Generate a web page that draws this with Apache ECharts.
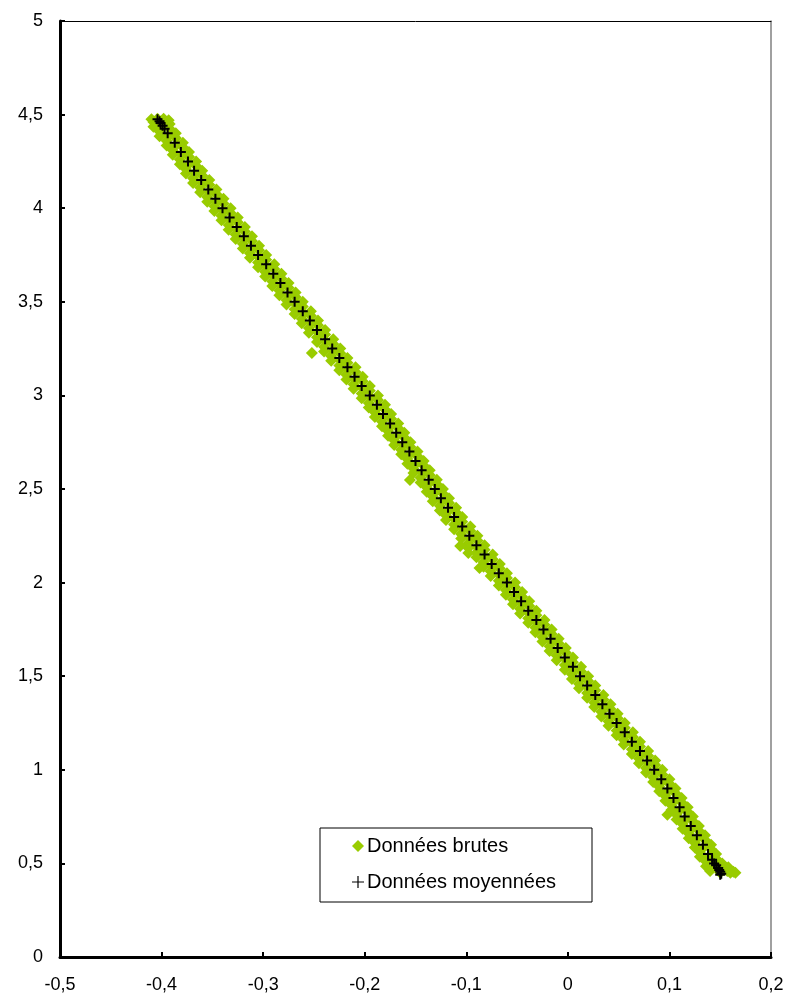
<!DOCTYPE html>
<html>
<head>
<meta charset="utf-8">
<script src="https://cdn.jsdelivr.net/npm/echarts@6/dist/echarts.min.js"></script>
<style>
html,body{margin:0;padding:0;background:#fff;}
#chart{width:789px;height:998px;}
</style>
</head>
<body>
<div id="chart"></div>
<script>
// Axis ticks
var xTicks = [-0.5, -0.4, -0.3, -0.2, -0.1, 0, 0.1, 0.2];
var yTicks = [0, 0.5, 1, 1.5, 2, 2.5, 3, 3.5, 4, 4.5, 5];

// Series names
var seriesNames = ['Données brutes', 'Données moyennées'];

// Averaged data [x, y]
var meanData = [
  [-0.404,4.475],[-0.402,4.465],[-0.401,4.455],[-0.399,4.44],[-0.397,4.425],[-0.394,4.40],
  [-0.387,4.35],[-0.381,4.30],[-0.374,4.25],[-0.368,4.20],[-0.361,4.15],
  [-0.354,4.10],[-0.347,4.05],[-0.340,4.00],[-0.333,3.95],[-0.326,3.90],[-0.319,3.85],
  [-0.312,3.80],[-0.305,3.75],[-0.297,3.70],[-0.290,3.65],[-0.283,3.60],[-0.276,3.55],
  [-0.269,3.50],[-0.261,3.45],[-0.254,3.40],[-0.247,3.35],[-0.239,3.30],[-0.232,3.25],
  [-0.225,3.20],[-0.217,3.15],[-0.210,3.10],[-0.203,3.05],[-0.195,3.00],[-0.188,2.95],
  [-0.182,2.90],[-0.175,2.85],[-0.169,2.80],[-0.163,2.75],[-0.156,2.70],[-0.150,2.65],
  [-0.144,2.60],[-0.137,2.55],[-0.131,2.50],[-0.125,2.45],[-0.118,2.40],[-0.112,2.35],
  [-0.104,2.30],[-0.097,2.25],[-0.090,2.20],[-0.082,2.15],[-0.075,2.10],[-0.068,2.05],
  [-0.060,2.00],[-0.053,1.95],[-0.046,1.90],[-0.039,1.85],[-0.031,1.80],[-0.024,1.75],
  [-0.017,1.70],[-0.010,1.65],[-0.003,1.60],[0.005,1.55],[0.012,1.50],[0.019,1.45],
  [0.027,1.40],[0.034,1.35],[0.041,1.30],[0.048,1.25],[0.056,1.20],[0.063,1.15],
  [0.071,1.10],[0.078,1.05],[0.085,1.00],[0.092,0.95],[0.098,0.90],[0.104,0.85],
  [0.110,0.80],[0.115,0.75],[0.121,0.70],[0.127,0.65],[0.133,0.60],[0.138,0.55],
  [0.142,0.52],[0.144,0.50],[0.146,0.49],[0.148,0.475],[0.149,0.465],[0.150,0.455],[0.151,0.445],[0.150,0.44]
];

// Raw data [x, y]
var rawData = [
  [-0.410,4.475],[-0.404,4.478],[-0.398,4.478],[-0.393,4.47],[-0.402,4.465],
  [-0.408,4.46],[-0.408,4.435],[-0.392,4.45],[-0.392,4.425],[-0.399,4.438],
  [-0.402,4.41],[-0.402,4.385],[-0.386,4.40],[-0.386,4.375],[-0.393,4.388],
  [-0.395,4.36],[-0.395,4.335],[-0.379,4.35],[-0.379,4.325],[-0.386,4.338],
  [-0.389,4.31],[-0.389,4.285],[-0.373,4.30],[-0.373,4.275],[-0.380,4.288],
  [-0.382,4.26],[-0.382,4.235],[-0.366,4.25],[-0.366,4.225],[-0.373,4.238],
  [-0.376,4.21],[-0.376,4.185],[-0.360,4.20],[-0.360,4.175],[-0.367,4.188],
  [-0.369,4.16],[-0.369,4.135],[-0.353,4.15],[-0.353,4.125],[-0.360,4.138],
  [-0.362,4.11],[-0.362,4.085],[-0.346,4.10],[-0.346,4.075],[-0.353,4.088],
  [-0.355,4.06],[-0.355,4.035],[-0.339,4.05],[-0.339,4.025],[-0.346,4.038],
  [-0.348,4.01],[-0.348,3.985],[-0.332,4.00],[-0.332,3.975],[-0.339,3.988],
  [-0.341,3.96],[-0.341,3.935],[-0.325,3.95],[-0.325,3.925],[-0.332,3.938],
  [-0.334,3.91],[-0.334,3.885],[-0.318,3.90],[-0.318,3.875],[-0.325,3.888],
  [-0.327,3.86],[-0.327,3.835],[-0.311,3.85],[-0.311,3.825],[-0.318,3.838],
  [-0.320,3.81],[-0.320,3.785],[-0.304,3.80],[-0.304,3.775],[-0.311,3.788],
  [-0.313,3.76],[-0.313,3.735],[-0.297,3.75],[-0.297,3.725],[-0.304,3.738],
  [-0.305,3.71],[-0.305,3.685],[-0.289,3.70],[-0.289,3.675],[-0.296,3.688],
  [-0.298,3.66],[-0.298,3.635],[-0.282,3.65],[-0.282,3.625],[-0.289,3.638],
  [-0.291,3.61],[-0.291,3.585],[-0.275,3.60],[-0.275,3.575],[-0.282,3.588],
  [-0.284,3.56],[-0.284,3.535],[-0.268,3.55],[-0.268,3.525],[-0.275,3.538],
  [-0.277,3.51],[-0.277,3.485],[-0.261,3.50],[-0.261,3.475],[-0.268,3.488],
  [-0.269,3.46],[-0.269,3.435],[-0.253,3.45],[-0.253,3.425],[-0.260,3.438],
  [-0.262,3.41],[-0.262,3.385],[-0.246,3.40],[-0.246,3.375],[-0.253,3.388],
  [-0.255,3.36],[-0.255,3.335],[-0.239,3.35],[-0.239,3.325],[-0.246,3.338],
  [-0.247,3.31],[-0.247,3.285],[-0.231,3.30],[-0.231,3.275],[-0.238,3.288],
  [-0.240,3.26],[-0.240,3.235],[-0.224,3.25],[-0.224,3.225],[-0.231,3.238],[-0.252,3.226],
  [-0.233,3.21],[-0.233,3.185],[-0.217,3.20],[-0.217,3.175],[-0.224,3.188],
  [-0.225,3.16],[-0.225,3.135],[-0.209,3.15],[-0.209,3.125],[-0.216,3.138],
  [-0.218,3.11],[-0.218,3.085],[-0.202,3.10],[-0.202,3.075],[-0.209,3.088],
  [-0.211,3.06],[-0.211,3.035],[-0.195,3.05],[-0.195,3.025],[-0.202,3.038],
  [-0.203,3.01],[-0.203,2.985],[-0.187,3.00],[-0.187,2.975],[-0.194,2.988],
  [-0.196,2.96],[-0.196,2.935],[-0.180,2.95],[-0.180,2.925],[-0.187,2.938],
  [-0.190,2.91],[-0.190,2.885],[-0.174,2.90],[-0.174,2.875],[-0.181,2.888],
  [-0.183,2.86],[-0.183,2.835],[-0.167,2.85],[-0.167,2.825],[-0.174,2.838],
  [-0.177,2.81],[-0.177,2.785],[-0.161,2.80],[-0.161,2.775],[-0.168,2.788],
  [-0.171,2.76],[-0.171,2.735],[-0.155,2.75],[-0.155,2.725],[-0.162,2.738],
  [-0.164,2.71],[-0.164,2.685],[-0.148,2.70],[-0.148,2.675],[-0.155,2.688],
  [-0.158,2.66],[-0.158,2.635],[-0.142,2.65],[-0.142,2.625],[-0.149,2.638],
  [-0.152,2.61],[-0.152,2.585],[-0.136,2.60],[-0.136,2.575],[-0.143,2.588],
  [-0.145,2.56],[-0.145,2.535],[-0.129,2.55],[-0.129,2.525],[-0.136,2.538],[-0.1555,2.548],
  [-0.139,2.51],[-0.139,2.485],[-0.123,2.50],[-0.123,2.475],[-0.130,2.488],
  [-0.133,2.46],[-0.133,2.435],[-0.117,2.45],[-0.117,2.425],[-0.124,2.438],
  [-0.126,2.41],[-0.126,2.385],[-0.110,2.40],[-0.110,2.375],[-0.117,2.388],
  [-0.120,2.36],[-0.120,2.335],[-0.104,2.35],[-0.104,2.325],[-0.111,2.338],
  [-0.112,2.31],[-0.112,2.285],[-0.096,2.30],[-0.096,2.275],[-0.103,2.288],
  [-0.105,2.26],[-0.105,2.235],[-0.089,2.25],[-0.089,2.225],[-0.096,2.238],
  [-0.098,2.21],[-0.098,2.185],[-0.082,2.20],[-0.082,2.175],[-0.089,2.188],[-0.106,2.196],[-0.098,2.158],
  [-0.090,2.16],[-0.090,2.135],[-0.074,2.15],[-0.074,2.125],[-0.081,2.138],
  [-0.083,2.11],[-0.083,2.085],[-0.067,2.10],[-0.067,2.075],[-0.074,2.088],[-0.087,2.078],
  [-0.076,2.06],[-0.076,2.035],[-0.060,2.05],[-0.060,2.025],[-0.067,2.038],
  [-0.068,2.01],[-0.068,1.985],[-0.052,2.00],[-0.052,1.975],[-0.059,1.988],
  [-0.061,1.96],[-0.061,1.935],[-0.045,1.95],[-0.045,1.925],[-0.052,1.938],
  [-0.054,1.91],[-0.054,1.885],[-0.038,1.90],[-0.038,1.875],[-0.045,1.888],
  [-0.047,1.86],[-0.047,1.835],[-0.031,1.85],[-0.031,1.825],[-0.038,1.838],
  [-0.039,1.81],[-0.039,1.785],[-0.023,1.80],[-0.023,1.775],[-0.030,1.788],
  [-0.032,1.76],[-0.032,1.735],[-0.016,1.75],[-0.016,1.725],[-0.023,1.738],
  [-0.025,1.71],[-0.025,1.685],[-0.009,1.70],[-0.009,1.675],[-0.016,1.688],
  [-0.018,1.66],[-0.018,1.635],[-0.002,1.65],[-0.002,1.625],[-0.009,1.638],
  [-0.011,1.61],[-0.011,1.585],[0.005,1.60],[0.005,1.575],[-0.002,1.588],
  [-0.003,1.56],[-0.003,1.535],[0.013,1.55],[0.013,1.525],[0.006,1.538],
  [0.004,1.51],[0.004,1.485],[0.020,1.50],[0.020,1.475],[0.013,1.488],
  [0.011,1.46],[0.011,1.435],[0.027,1.45],[0.027,1.425],[0.020,1.438],
  [0.019,1.41],[0.019,1.385],[0.035,1.40],[0.035,1.375],[0.028,1.388],
  [0.026,1.36],[0.026,1.335],[0.042,1.35],[0.042,1.325],[0.035,1.338],
  [0.033,1.31],[0.033,1.285],[0.049,1.30],[0.049,1.275],[0.042,1.288],
  [0.040,1.26],[0.040,1.235],[0.056,1.25],[0.056,1.225],[0.049,1.238],
  [0.048,1.21],[0.048,1.185],[0.064,1.20],[0.064,1.175],[0.057,1.188],
  [0.055,1.16],[0.055,1.135],[0.071,1.15],[0.071,1.125],[0.064,1.138],
  [0.063,1.11],[0.063,1.085],[0.079,1.10],[0.079,1.075],[0.072,1.088],
  [0.070,1.06],[0.070,1.035],[0.086,1.05],[0.086,1.025],[0.079,1.038],
  [0.077,1.01],[0.077,0.985],[0.093,1.00],[0.093,0.975],[0.086,0.988],
  [0.084,0.96],[0.084,0.935],[0.100,0.95],[0.100,0.925],[0.093,0.938],
  [0.090,0.91],[0.090,0.885],[0.106,0.90],[0.106,0.875],[0.099,0.888],
  [0.096,0.86],[0.096,0.835],[0.112,0.85],[0.112,0.825],[0.105,0.838],
  [0.102,0.81],[0.102,0.785],[0.118,0.80],[0.118,0.775],[0.111,0.788],[0.098,0.76],
  [0.107,0.76],[0.107,0.735],[0.123,0.75],[0.123,0.725],[0.116,0.738],
  [0.113,0.71],[0.113,0.685],[0.129,0.70],[0.129,0.675],[0.122,0.688],
  [0.119,0.66],[0.119,0.635],[0.135,0.65],[0.135,0.625],[0.128,0.638],
  [0.125,0.61],[0.125,0.585],[0.141,0.60],[0.141,0.575],[0.134,0.588],
  [0.130,0.56],[0.130,0.535],[0.146,0.55],[0.146,0.525],[0.139,0.538],
  [0.136,0.51],[0.136,0.485],[0.152,0.50],[0.152,0.475],[0.145,0.488],[0.158,0.48],
  [0.140,0.46],[0.157,0.46],[0.163,0.455],[0.165,0.45],[0.150,0.45],[0.160,0.45]
];

var plusPath = 'path://M4,0H6V4H10V6H6V10H4V6H0V4H4Z';
var plusLegend = 'path://M5.4,0H6.6V5.4H12V6.6H6.6V12H5.4V6.6H0V5.4H5.4Z';

var chart = echarts.init(document.getElementById('chart'));
var labelFont = {color:'#000', fontSize:18, fontFamily:'Liberation Sans, Arial, sans-serif'};
chart.setOption({
  animation: false,
  backgroundColor: '#fff',
  grid: {left: 60, right: 18, top: 21, bottom: 41},
  legend: {
    orient: 'vertical',
    left: 320, top: 828,
    padding: [8, 36, 10, 32],
    itemGap: 16,
    itemWidth: 12, itemHeight: 12,
    borderColor: '#000', borderWidth: 1,
    textStyle: {color:'#000', fontSize:20, fontFamily:'Liberation Sans, Arial, sans-serif', padding:[0,0,0,-2]},
    data: [
      {name: seriesNames[0], icon: 'diamond', itemStyle:{color:'#99CC00'}},
      {name: seriesNames[1], icon: plusLegend, itemStyle:{color:'#000'}}
    ]
  },
  xAxis: [{
    type: 'value', min: xTicks[0], max: xTicks[xTicks.length-1], interval: 0.1,
    axisLine: {show:true, onZero:false, lineStyle:{color:'#000', width:3}},
    axisTick: {show:true, inside:true, length:5, lineStyle:{color:'#000', width:2}},
    splitLine: {show:false},
    axisLabel: Object.assign({margin: 19, formatter: function(v){ return (Math.round(v*10)/10).toString().replace('.', ','); }}, labelFont)
  },{
    type: 'value', position: 'top', min: xTicks[0], max: xTicks[xTicks.length-1],
    axisLine: {show:true, onZero:false, lineStyle:{color:'#000', width:1}},
    axisTick: {show:false}, axisLabel: {show:false}, splitLine: {show:false}
  }],
  yAxis: [{
    type: 'value', min: yTicks[0], max: yTicks[yTicks.length-1], interval: 0.5,
    axisLine: {show:true, onZero:false, lineStyle:{color:'#000', width:3}},
    axisTick: {show:true, inside:true, length:5, lineStyle:{color:'#000', width:2}},
    splitLine: {show:false},
    axisLabel: Object.assign({margin: 17, formatter: function(v){ return (Math.round(v*10)/10).toString().replace('.', ','); }}, labelFont)
  },{
    type: 'value', position: 'right', min: yTicks[0], max: yTicks[yTicks.length-1],
    axisLine: {show:true, onZero:false, lineStyle:{color:'#808080', width:1.5}},
    axisTick: {show:false}, axisLabel: {show:false}, splitLine: {show:false}
  }],
  series: [{
    name: seriesNames[0], type: 'scatter', symbol: 'diamond', symbolSize: 12,
    itemStyle: {color: '#99CC00', opacity: 1},
    data: rawData, z: 2
  },{
    name: seriesNames[1], type: 'scatter', symbol: plusPath, symbolSize: 10,
    itemStyle: {color: '#000', opacity: 1},
    data: meanData, z: 3
  }]
});
</script>
</body>
</html>
